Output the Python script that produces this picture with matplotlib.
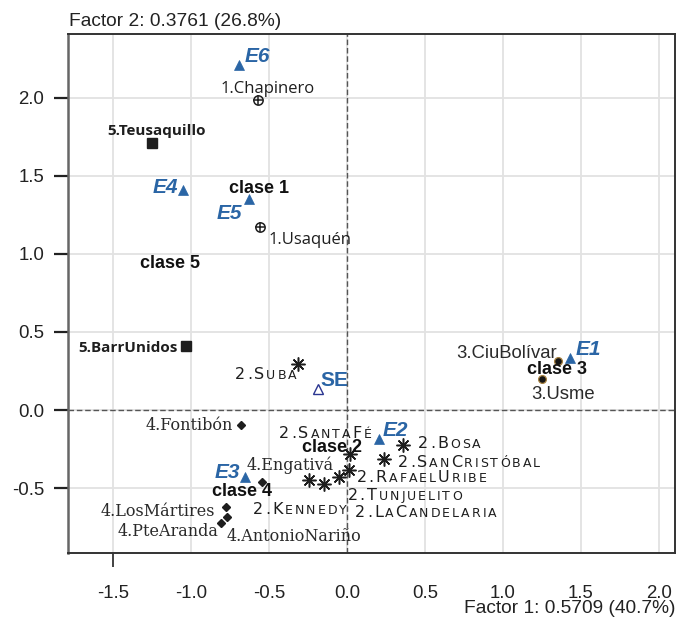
import matplotlib
matplotlib.use("Agg")
import matplotlib.pyplot as plt

# ---------------- data ----------------
c1_names = ["1.Chapinero", "1.Usaquén"]
c1_x = [-0.570, -0.557]
c1_y = [1.985, 1.174]

c5_names = ["5.Teusaquillo", "5.BarrUnidos"]
c5_x = [-1.248, -1.034]
c5_y = [1.708, 0.410]

c2_names = ["2.Suba", "2.SantaFé", "2.Bosa", "2.SanCristóbal", "2.RafaelUribe",
            "2.Tunjuelito", "2.LaCandelaria", "2.Kennedy"]
c2_x = [-0.316, 0.020, 0.358, 0.240, 0.015, -0.051, -0.147, -0.241]
c2_y = [0.293, -0.281, -0.223, -0.315, -0.383, -0.430, -0.475, -0.448]

c3_names = ["3.CiuBolívar", "3.Usme"]
c3_x = [1.352, 1.253]
c3_y = [0.314, 0.197]

c4_names = ["4.Fontibón", "4.Engativá", "4.LosMártires", "4.AntonioNariño", "4.PteAranda"]
c4_x = [-0.679, -0.547, -0.777, -0.767, -0.808]
c4_y = [-0.095, -0.460, -0.622, -0.686, -0.721]

e_names = ["E1", "E2", "E3", "E4", "E5", "E6"]
e_x = [1.431, 0.208, -0.654, -1.049, -0.628, -0.692]
e_y = [0.335, -0.187, -0.430, 1.409, 1.351, 2.209]

se_names = ["SE"]
se_x = [-0.183]
se_y = [0.133]

clase_names = ["clase 1", "clase 2", "clase 3", "clase 4", "clase 5"]
clase_x = [-0.562, -0.097, 1.346, -0.675, -1.135]
clase_y = [1.420, -0.241, 0.257, -0.522, 0.937]

xticks = [-1.5, -1.0, -0.5, 0.0, 0.5, 1.0, 1.5, 2.0]
xtick_labels = ["-1.5", "-1.0", "-0.5", "0.0", "0.5", "1.0", "1.5", "2.0"]
yticks = [-0.5, 0.0, 0.5, 1.0, 1.5, 2.0]
ytick_labels = ["-0.5", "0.0", "0.5", "1.0", "1.5", "2.0"]
x_title = "Factor 1: 0.5709 (40.7%)"
y_title = "Factor 2: 0.3761 (26.8%)"

# ---------------- label placement (pixel offsets: dx, dy of text centre, alignment) ----
c1_off = [(10, 12.7, "center"), (8.3, -11, "left")]
c5_off = [(4, 14, "center"), (-8.4, -0.7, "right")]
c2_off = [(-1, -8.4, "right"), (21.7, 21.3, "right"), (15.3, 2.3, "left"), (13.4, -2.4, "left"),
          (7.4, -6.7, "left"), (8.7, -16.7, "left"), (31, -27.4, "left"), (37.4, -28.3, "right")]
c3_off = [(-1, 9.3, "right"), (-11.3, -13.4, "left")]
c4_off = [(-7.7, 0, "right"), (-15, 17, "left"), (-10.7, -3.7, "right"), (-0.6, -18.7, "left"),
          (-2, -9, "right")]
e_off = [(5.7, 10, "left"), (3.4, 11, "left"), (-5, 6.3, "right"), (-5, 4.3, "right"),
         (-7.3, -12, "right"), (5.3, 10.7, "left")]
se_off = [(1.7, 11, "left")]

DPI = 100
W, H = 676, 628
BLUE = "#2a65a5"
DARK = "#1e1e1e"

fig = plt.figure(figsize=(W / DPI, H / DPI), dpi=DPI)
L, R, T, B = 68, 675, 34.3, 553.3
ax = fig.add_axes([L / W, 1 - B / H, (R - L) / W, (B - T) / H])
ax.set_xlim(-1.789, 2.105)
ax.set_ylim(-0.917, 2.406)

ax.set_axisbelow(True)
ax.grid(True, color="#e2e2e2", lw=1.3)
ax.axhline(0, color="#555555", lw=1.0, ls=(0, (4, 2)), zorder=1.5)
ax.axvline(0, color="#555555", lw=1.0, ls=(0, (4, 2)), zorder=1.5)

for s in ax.spines.values():
    s.set_color("#333333")
    s.set_linewidth(1.4)
ax.spines["left"].set_color("#666666")
ax.spines["left"].set_linewidth(1.8)

ax.set_xticks(xticks)
ax.set_xticklabels(xtick_labels, family="Liberation Sans", fontsize=13.4, color="#222222")
ax.set_yticks(yticks)
ax.set_yticklabels(ytick_labels, family="Liberation Sans", fontsize=13.4, color="#222222")
ax.tick_params(axis="x", length=10, width=1.2, pad=13, color="#222222")
ax.tick_params(axis="y", length=10, width=1.6, pad=7, color="#222222")
for t in ax.xaxis.get_major_ticks()[1:]:
    t.tick1line.set_visible(False)

fig.text(L / W + 0.001, 1 - 26 / H, y_title, family="Liberation Sans", fontsize=13.8,
         color="#222222", ha="left", va="baseline")
fig.text(R / W, 1 - 613.3 / H, x_title, family="Liberation Sans", fontsize=13.8,
         color="#222222", ha="right", va="baseline")

# ---------------- markers ----------------
ax.plot(c1_x, c1_y, ls="none", marker="o", ms=6.7, mfc="none", mec=DARK, mew=1.1, zorder=3)
ax.plot(c1_x, c1_y, ls="none", marker="+", ms=6.7, mec=DARK, mew=1.1, zorder=3)
ax.plot(c5_x, c5_y, ls="none", marker="s", ms=7.6, mfc=DARK, mec=DARK, zorder=3)
ax.plot(c2_x, c2_y, ls="none", marker=(8, 2, 0), ms=10, mec=DARK, mew=1.1, zorder=3)
ax.plot(c3_x, c3_y, ls="none", marker="o", ms=5.6, mfc="#151515", mec="#a5803f", mew=0.9, zorder=3)
ax.plot(c4_x, c4_y, ls="none", marker="D", ms=4.2, mfc=DARK, mec=DARK, zorder=3)
ax.plot(e_x, e_y, ls="none", marker="^", ms=7, mfc=BLUE, mec=BLUE, mew=0.5, zorder=3)
ax.plot(se_x, se_y, ls="none", marker="^", ms=7, mfc="white", mec="#2a3590", mew=1.0, zorder=3)

renderer = fig.canvas.get_renderer()


def label(x, y, txt, off, size, cap=0.72, **kw):
    dx, dyc, ha = off
    capp = cap * size * DPI / 72
    ax.annotate(txt, (x, y), xytext=(dx, dyc - capp / 2), textcoords="offset pixels",
                ha=ha, va="baseline", fontsize=size, annotation_clip=False, zorder=4, **kw)


def smallcaps(x, y, txt, off, size, family, color, scale=0.78, spacing=2.0):
    dx, dyc, ha = off
    capp = 0.729 * size * DPI / 72
    dy = dyc - capp / 2
    arts, widths = [], []
    for ch in txt:
        small = ch.islower()
        c = ch.upper() if small else ch
        s = size * scale if small else size
        t = ax.annotate(c, (x, y), xytext=(0, dy), textcoords="offset pixels", ha="left",
                        va="baseline", fontsize=s, family=family, color=color,
                        annotation_clip=False, zorder=4)
        arts.append(t)
        widths.append(t.get_window_extent(renderer).width)
    total = sum(widths) + spacing * (len(widths) - 1)
    start = dx if ha == "left" else dx - total
    cur = start
    for t, w in zip(arts, widths):
        t.xyann = (cur, dy)
        cur += w + spacing


for n, x, y, o in zip(c1_names, c1_x, c1_y, c1_off):
    label(x, y, n, o, 12, family="Open Sans", color=DARK)
for n, x, y, o in zip(c5_names, c5_x, c5_y, c5_off):
    label(x, y, n, o, 11, family="Open Sans", fontweight="bold", color=DARK)
for n, x, y, o in zip(c2_names, c2_x, c2_y, c2_off):
    smallcaps(x, y, n, o, 11.5, "DejaVu Sans", DARK)
for n, x, y, o in zip(c3_names, c3_x, c3_y, c3_off):
    label(x, y, n, o, 13.3, family="Liberation Sans", color="#2a2a2a")
for n, x, y, o in zip(c4_names, c4_x, c4_y, c4_off):
    label(x, y, n, o, 11.5, cap=0.6, family="DejaVu Serif", color="#2a2a2a")
for n, x, y, o in zip(e_names, e_x, e_y, e_off):
    label(x, y, n, o, 15, family="Liberation Sans", fontweight="bold", fontstyle="italic",
          color=BLUE)
for n, x, y, o in zip(se_names, se_x, se_y, se_off):
    label(x, y, n, o, 15, family="Liberation Sans", fontweight="bold", color=BLUE)

for n, x, y in zip(clase_names, clase_x, clase_y):
    ax.text(x, y, n, family="Liberation Sans", fontweight="bold", fontsize=13, color="#111111",
            ha="center", va="center", zorder=4)

fig.savefig("out.png", dpi=DPI)
